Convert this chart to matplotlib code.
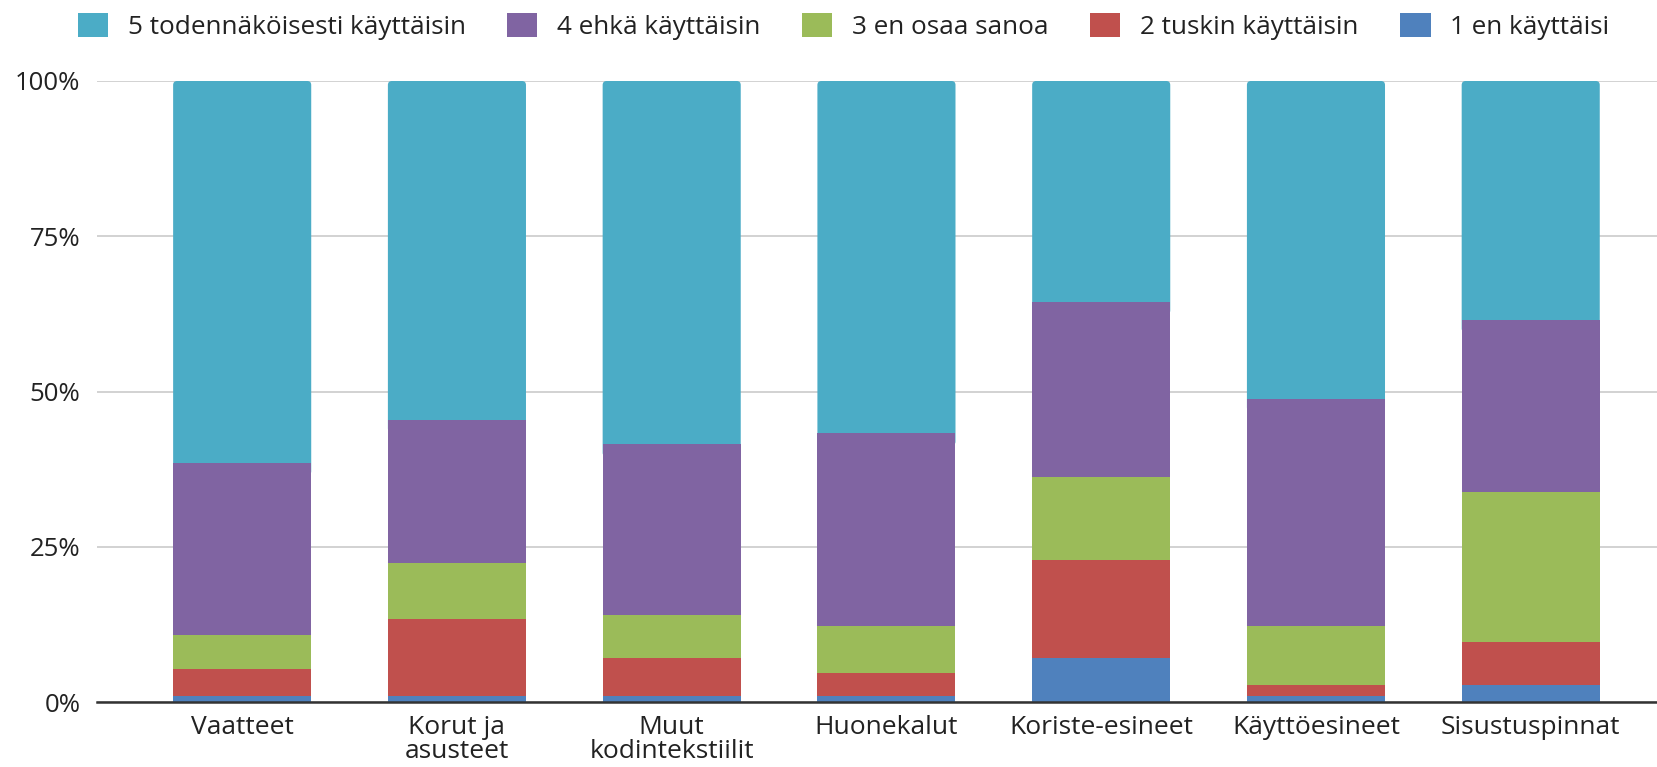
import numpy as np
import matplotlib
matplotlib.use("Agg", force=True)
import matplotlib.pyplot as plt
from matplotlib.patches import Patch, FancyBboxPatch

plt.rcParams["font.family"] = ["Open Sans", "DejaVu Sans"]

# categories (x axis)
categories = ["Vaatteet", "Korut ja\nasusteet", "Muut\nkodintekstiilit", "Huonekalut",
              "Koriste-esineet", "Käyttöesineet", "Sisustuspinnat"]

# shares in percent, per answer option
s1_en_kayttaisi = [0.9, 0.9, 0.9, 0.9, 7.1, 0.9, 2.7]
s2_tuskin = [4.4, 12.4, 6.2, 3.7, 15.7, 1.8, 6.9]
s3_en_osaa = [5.5, 9.1, 6.9, 7.6, 13.5, 9.5, 24.2]
s4_ehka = [27.7, 23.0, 27.5, 31.1, 28.1, 36.6, 27.7]
s5_todennakoisesti = [61.5, 54.6, 58.5, 56.7, 35.6, 51.2, 38.5]

series_labels = ["1 en käyttäisi", "2 tuskin käyttäisin", "3 en osaa sanoa",
                 "4 ehkä käyttäisin", "5 todennäköisesti käyttäisin"]
series_colors = ["#4F81BD", "#C0504D", "#9BBB59", "#8064A2", "#4BACC6"]

yticks = [0, 25, 50, 75, 100]
ytick_labels = ["0%", "25%", "50%", "75%", "100%"]

fig = plt.figure(figsize=(16.57, 7.67), dpi=100)
ax = fig.add_axes([97 / 1657, 1 - 702 / 767, 1 - 97 / 1657, (702 - 81) / 767])

x = np.arange(len(categories))
bottom = np.zeros(len(categories))
series = [s1_en_kayttaisi, s2_tuskin, s3_en_osaa, s4_ehka, s5_todennakoisesti]
containers = []
for vals, lab, col in zip(series, series_labels, series_colors):
    bc = ax.bar(x, vals, bottom=bottom, width=0.643, color=col, label=lab, linewidth=0, zorder=2)
    containers.append(bc)
    bottom += np.array(vals)

ax.set_xlim(-0.676, 6.588)
ax.set_ylim(0, 100)

# rounded top corners on the top segment (drawn a little lower, under the segment below)
px_x = (1657 - 97) / (6.588 + 0.676)
px_y = (702 - 81) / 100
for rect in containers[-1]:
    rect.set_visible(False)
    x0, y0 = rect.get_x(), rect.get_y()
    w, h = rect.get_width(), rect.get_height()
    fb = FancyBboxPatch((x0, y0 - 2), w, h + 2,
                        boxstyle=f"round,pad=0,rounding_size={4 / px_x}",
                        mutation_aspect=px_x / px_y,
                        facecolor=rect.get_facecolor(), edgecolor="none", zorder=1.9)
    ax.add_patch(fb)

ax.set_yticks(yticks)
ax.set_yticklabels(ytick_labels, fontsize=18.5, color="#222222")
ax.set_xticks(x)
ax.set_xticklabels(categories, fontsize=19, color="#222222", linespacing=0.95)
ax.tick_params(axis="both", length=0)
ax.tick_params(axis="y", pad=12)
ax.tick_params(axis="x", pad=9)

ax.grid(axis="y", color="#cfcfcf", linewidth=1.3, zorder=0)
ax.set_axisbelow(True)
for side in ["top", "right", "left"]:
    ax.spines[side].set_visible(False)
ax.spines["bottom"].set_color("#333333")
ax.spines["bottom"].set_linewidth(1.8)
ax.spines["bottom"].set_zorder(3)

# legend in reverse order, as in the reference
handles = [Patch(facecolor=c, edgecolor="none") for c in series_colors][::-1]
labels = series_labels[::-1]
fig.legend(handles, labels, loc="center", bbox_to_anchor=(843.5 / 1657, 1 - 26.7 / 767),
           ncol=5, frameon=False, fontsize=18.8, handlelength=1.15, handleheight=1.05,
           handletextpad=0.76, columnspacing=1.6, labelcolor="#222222",
           borderpad=0, borderaxespad=0)

fig.savefig("out.png", dpi=100)
